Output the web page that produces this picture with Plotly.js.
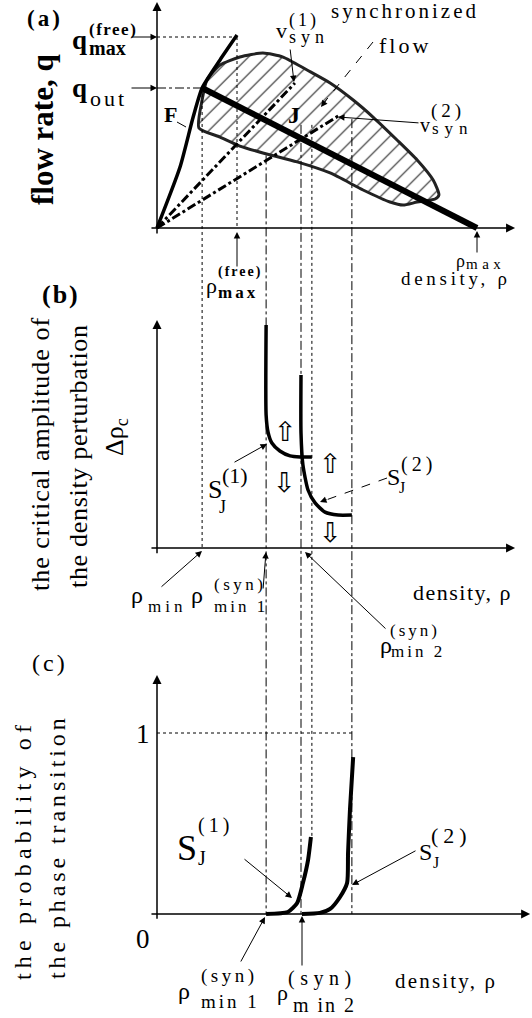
<!DOCTYPE html>
<html>
<head>
<meta charset="utf-8">
<script src="https://cdn.plot.ly/plotly-3.0.1.min.js"></script>
<style>body{margin:0;background:#fff}</style>
</head>
<body>
<div id="chart" style="width:532px;height:1018px"></div>
<script>
// density in % of rho_max, flow rate in % of q_max(free)
const rhoMin = 14.1, rhoFreeMax = 25, rhoSyn1 = 34.1, rhoSyn2 = 45, rhoDot = 48.4, rhoEdge = 60.9, rhoMax = 100;
const qFreeMax = 100, qOut = 73.3, probOne = 1;

// (a) free flow branch F and line J
const freeRho = [0, 7.2, 11.3, 14.1, 19.7, 25];
const freeQ   = [0, 31.9, 58.1, 73.3, 88, 101];
const lineJRho = [rhoMin, rhoMax];
const lineJQ   = [qOut, 0];

// (a) synchronized flow region (closed outline)
const synRho = [13.1, 14.1, 15.6, 19.7, 25.9, 33.1, 39.4, 46.9, 54.1, 61.3, 67.5, 75.0, 81.3, 86.3, 88.1, 86.9, 81.3, 76.9, 72.8, 64.4, 54.1, 43.8, 33.1, 25.9, 19.7, 13.1];
const synQ   = [52.4, 67.0, 77.5, 85.3, 89.5, 91.6, 89.5, 82.7, 75.9, 67.0, 58.1, 46.1, 35.6, 25.1, 17.3, 15.2, 13.6, 12.0, 13.6, 19.9, 28.8, 34.6, 39.3, 42.9, 47.6, 52.4];

// (a) rays for v_syn(1), v_syn(2)
const vSyn1Rho = [0, 43.1], vSyn1Q = [0, 75.9];
const vSyn2Rho = [0, 56.6], vSyn2Q = [0, 58.6];

// (b) critical amplitude of the density perturbation
const s1bRho = [34.1, 34.1, 34.7, 35.9, 38.4, 41.6, 44.7, 48.4];
const s1bAmp = [100, 59.6, 52.0, 47.1, 43.5, 41.3, 40.8, 40.8];
const s2bRho = [45, 45, 45.6, 47.2, 49.4, 52.5, 56.6, 60.9];
const s2bAmp = [77.6, 51.6, 37.2, 26.0, 20.2, 16.1, 14.8, 14.8];

// (c) probability of the phase transition
const s1cRho  = [34.1, 40.9, 43.8, 45.6, 47.2, 48.1];
const s1cProb = [0, 0.011, 0.061, 0.171, 0.298, 0.425];
const s2cRho  = [45.3, 50.9, 54.1, 57.2, 59.4, 59.7, 60.3, 61.3];
const s2cProb = [0, 0.006, 0.028, 0.094, 0.171, 0.337, 0.575, 0.867];

const W = 532, H = 1018;
const SERIF = 'Liberation Serif';
const X0 = 157, XU = 3.2;   // pixel of rho = 0, pixels per density unit
const panelA = {top: 0,   bottom: 250,  zero: 228, unit: 1.91};
const panelB = {top: 300, bottom: 600,  zero: 548, unit: 2.23};
const panelC = {top: 660, bottom: 1018, zero: 914, unit: 181};

function yaxisFor(p) {
	return {domain: [1 - p.bottom / H, 1 - p.top / H], range: [(p.zero - p.bottom) / p.unit, (p.zero - p.top) / p.unit],
		visible: false, fixedrange: true, anchor: 'x'};
}
// value of a panel -> paper fraction
function pap(p, v) { return 1 - (p.zero - v * p.unit) / H; }

let traces = [];
function curve(xs, ys, yaxis, width, dash, shape) {
	traces.push({x: xs, y: ys, xaxis: 'x', yaxis: yaxis, type: 'scatter', mode: 'lines',
		line: {color: 'black', width: width, dash: dash || 'solid', shape: shape || 'spline', smoothing: 0.6},
		hoverinfo: 'skip', showlegend: false});
}

traces.push({x: synRho, y: synQ, xaxis: 'x', yaxis: 'y', type: 'scatter', mode: 'lines', fill: 'toself',
	fillcolor: 'rgba(0,0,0,0)',
	fillpattern: {shape: '/', size: 12, solidity: 0.09, fgcolor: '#222', bgcolor: 'rgba(0,0,0,0)'},
	line: {color: '#222', width: 3, shape: 'spline', smoothing: 0.6}, hoverinfo: 'skip', showlegend: false});
curve(vSyn1Rho, vSyn1Q, 'y', 3, 'dashdot', 'linear');
curve(vSyn2Rho, vSyn2Q, 'y', 3, 'dashdot', 'linear');
curve(freeRho, freeQ, 'y', 3.5);
curve(lineJRho, lineJQ, 'y', 6, 'solid', 'linear');

curve(s1bRho, s1bAmp, 'y2', 3.5);
curve(s2bRho, s2bAmp, 'y2', 3.5);

curve(s1cRho, s1cProb, 'y3', 4);
curve(s2cRho, s2cProb, 'y3', 4);

let shapes = [];
function refLine(x0, y0, x1, y1, yref, dash) {
	shapes.push({type: 'line', xref: 'x', yref: yref, x0: x0, y0: y0, x1: x1, y1: y1, line: {color: 'black', width: 1, dash: dash}});
}
refLine(0, qFreeMax, rhoFreeMax, qFreeMax, 'y', 'dot');
refLine(rhoFreeMax, qFreeMax, rhoFreeMax, 0, 'y', 'dot');
refLine(0, qOut, rhoMin, qOut, 'y', 'dashdot');
refLine(rhoMin, pap(panelA, qOut), rhoMin, pap(panelB, 0), 'paper', 'dot');
refLine(rhoSyn1, pap(panelA, 38), rhoSyn1, pap(panelC, 0), 'paper', 'dashdot');
refLine(rhoSyn2, pap(panelA, 54), rhoSyn2, pap(panelC, 0), 'paper', 'dashdot');
refLine(rhoDot, pap(panelA, 54), rhoDot, pap(panelC, 0.425), 'paper', 'dot');
refLine(rhoEdge, pap(panelA, 57), rhoEdge, pap(panelC, 0), 'paper', 'dashdot');
refLine(0, probOne, rhoEdge, probOne, 'y3', 'dot');

// leader lines in pixels
function leader(x0, y0, x1, y1, dash) {
	shapes.push({type: 'line', xref: 'paper', yref: 'paper', x0: x0 / W, y0: 1 - y0 / H, x1: x1 / W, y1: 1 - y1 / H,
		line: {color: 'black', width: 1, dash: dash || 'solid'}});
}
leader(373, 42, 323, 104, 'dash');
leader(177, 122, 186, 127);
leader(387, 478, 326, 500, 'dash');

let annotations = [];
// x in px; y = baseline in px (or centre when o.mid); o: {bold, ls, anchor, angle, mid}
function label(x, y, text, size, o) {
	o = o || {};
	let t = o.bold ? '<b>' + text + '</b>' : text;
	if (o.ls) t = '<span style="letter-spacing:' + o.ls + 'px">' + t + '</span>';
	const cy = o.mid ? y : y - 0.3375 * size;
	annotations.push({xref: 'paper', yref: 'paper', x: x / W, y: 1 - cy / H, text: t, showarrow: false,
		xanchor: o.anchor || 'center', yanchor: 'middle', textangle: o.angle || 0, borderpad: 0,
		font: {family: o.family || SERIF, size: size, color: 'black'}});
}
function arrow(hx, hy, tx, ty) {
	annotations.push({xref: 'paper', yref: 'paper', x: hx / W, y: 1 - hy / H, ax: tx - hx, ay: ty - hy, text: '',
		showarrow: true, arrowhead: 2, arrowsize: 1.3, arrowwidth: 1, arrowcolor: 'black'});
}
function axisArrow(yref, x0, y0, x1, y1) {
	annotations.push({xref: 'x', yref: yref, axref: 'x', ayref: yref, x: x1, y: y1, ax: x0, ay: y0, text: '',
		showarrow: true, arrowhead: 2, arrowsize: 1.2, arrowwidth: 1.5, arrowcolor: 'black'});
}

// axes
axisArrow('y', -2.2, 0, 111.9, 0);
axisArrow('y', 0, -3.7, 0, 118.3);
axisArrow('y2', -2.2, 0, 111.9, 0);
axisArrow('y2', 0, -3, 0, 102.2);
axisArrow('y3', -2.2, 0, 116.6, 0);
axisArrow('y3', 0, -0.035, 0, 1.32);

// (a)
label(45, 26, '(a)', 23, {bold: true, ls: 3});
label(42, 130, 'flow rate, q', 31, {bold: true, angle: -90, mid: true});
label(88, 49, 'q', 27, {bold: true, anchor: 'right'});
label(88, 55, 'max', 20, {bold: true, anchor: 'left'});
label(88, 35, '(free)', 17, {bold: true, anchor: 'left', ls: 1.5});
arrow(157, 37, 130, 37);
label(88, 97, 'q', 27, {bold: true, anchor: 'right'});
label(89, 106, 'out', 22, {anchor: 'left', ls: 3});
arrow(157, 88, 130, 88);
label(170, 122, 'F', 22, {bold: true});
label(405, 18, 'synchronized', 21, {ls: 3});
label(405, 53, 'flow', 22, {ls: 3});
label(288, 38, 'v', 22, {anchor: 'right'});
label(288, 27, '(1)', 18, {anchor: 'left', ls: 3});
label(288, 43, 'syn', 18, {anchor: 'left', ls: 5});
arrow(294, 82, 290, 48);
arrow(321, 107, 327, 99);
label(431, 132, 'v', 20, {anchor: 'right'});
label(430, 117, '(2)', 19, {anchor: 'left', ls: 4});
label(431, 134, 'syn', 17, {anchor: 'left', ls: 6});
arrow(338, 117, 420, 123);
label(294, 123, 'J', 24, {bold: true});
label(218, 293, 'ρ', 22, {anchor: 'right'});
label(217, 298, 'max', 17, {bold: true, anchor: 'left', ls: 3});
label(217, 277, '(free)', 14, {bold: true, anchor: 'left', ls: 2});
arrow(237, 232, 237, 268);
label(466, 267, 'ρ', 18, {anchor: 'right'});
label(465, 269, 'max', 15, {anchor: 'left', ls: 4.5});
arrow(477, 231, 477, 254);
label(456, 285, 'density, ρ', 19, {ls: 3.7});

// (b)
label(61, 303, '(b)', 26, {bold: true, ls: 2});
label(40, 454, 'the critical amplitude of', 26, {angle: -90, mid: true, ls: 1});
label(78, 456, 'the density perturbation', 26, {angle: -90, mid: true, ls: 0.7});
label(116, 437, 'Δρ<sub>c</sub>', 26, {angle: -90, mid: true});
label(144, 603, 'ρ', 24, {anchor: 'right'});
label(147, 612, 'min', 17, {anchor: 'left', ls: 4});
arrow(202, 551, 160, 588);
label(204, 603, 'ρ', 24, {anchor: 'right'});
label(213, 590, '(syn)', 17, {anchor: 'left', ls: 3.5});
label(213, 612, 'min 1', 17, {anchor: 'left', ls: 3});
arrow(266, 552, 263, 590);
label(223, 498, 'S', 26, {anchor: 'right'});
label(221, 483, '(1)', 22, {anchor: 'left'});
label(218, 513, 'J', 18, {anchor: 'left'});
arrow(267, 444, 233, 463);
label(401, 485, 'S', 24, {anchor: 'right'});
label(400, 471, '(2)', 20, {anchor: 'left', ls: 4});
label(398, 493, 'J', 16, {anchor: 'left'});
arrow(320, 502, 328, 499);
label(462, 600, 'density, ρ', 22, {ls: 1.5});
label(393, 653, 'ρ', 24, {anchor: 'right'});
label(389, 636, '(syn)', 17, {anchor: 'left', ls: 3});
label(390, 657, 'min 2', 17, {anchor: 'left', ls: 3});
arrow(305, 552, 387, 630);
const hollow = {family: 'DejaVu Sans', mid: true};
label(285, 432, '⇧', 27, hollow); label(284, 482, '⇩', 27, hollow);
label(330, 463, '⇧', 27, hollow); label(330, 532, '⇩', 27, hollow);

// (c)
label(50, 671, '(c)', 24, {ls: 3});
label(23, 850, 'the probability of', 24, {angle: -90, mid: true, ls: 5.2});
label(57, 847, 'the phase transition', 24, {angle: -90, mid: true, ls: 3.9});
label(143, 743, '1', 27);
label(143, 948, '0', 27);
label(198, 860, 'S', 36, {anchor: 'right'});
label(197, 832, '(1)', 20, {anchor: 'left', ls: 4});
label(197, 865, 'J', 20, {anchor: 'left'});
arrow(292, 898, 243, 858);
label(433, 860, 'S', 24, {anchor: 'right'});
label(430, 843, '(2)', 22, {anchor: 'left', ls: 5});
label(432, 868, 'J', 16, {anchor: 'left'});
arrow(352, 885, 417, 850);
label(191, 999, 'ρ', 24, {anchor: 'right'});
label(200, 982, '(syn)', 19, {anchor: 'left', ls: 3.5});
label(200, 1008, 'min 1', 19, {anchor: 'left', ls: 3});
arrow(265, 917, 240, 963);
label(289, 1000, 'ρ', 22, {anchor: 'right'});
label(287, 985, '(syn)', 20, {anchor: 'left', ls: 5.5});
label(292, 1012, 'm in 2', 20, {anchor: 'left', ls: 2});
arrow(302, 916, 302, 967);
label(446, 988, 'density, ρ', 21, {ls: 2.2});

const layout = {
	width: W, height: H,
	margin: {l: 0, r: 0, t: 0, b: 0},
	paper_bgcolor: 'white', plot_bgcolor: 'rgba(0,0,0,0)',
	showlegend: false,
	xaxis: {domain: [0, 1], range: [-X0 / XU, (W - X0) / XU], visible: false, fixedrange: true, anchor: 'y'},
	yaxis: yaxisFor(panelA),
	yaxis2: yaxisFor(panelB),
	yaxis3: yaxisFor(panelC),
	shapes: shapes,
	annotations: annotations
};

Plotly.newPlot('chart', traces, layout, {displayModeBar: false, staticPlot: true});
</script>
</body>
</html>
